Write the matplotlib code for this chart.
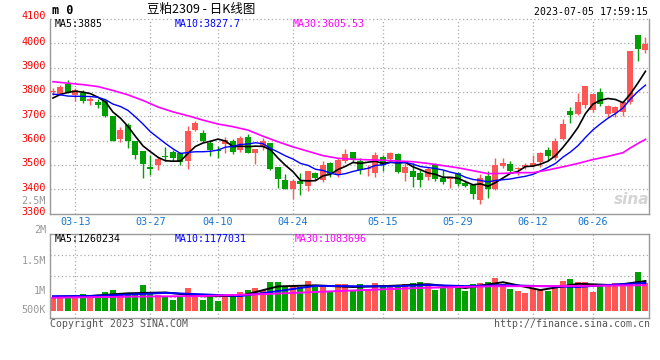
import matplotlib
matplotlib.use("Agg")
import matplotlib.pyplot as plt
from matplotlib.transforms import blended_transform_factory
import numpy as np

# daily candles 2023-03-08 .. 2023-07-05 (80 trading days)
opens = [3800, 3793, 3832, 3788, 3796, 3763, 3759, 3763, 3700, 3606,
         3663, 3599, 3557, 3490, 3499, 3536, 3555, 3547, 3517, 3643,
         3633, 3592, 3563, 3585, 3599, 3561, 3616, 3550, 3572, 3588,
         3490, 3438, 3401, 3435, 3414, 3468, 3438, 3506, 3458, 3517,
         3551, 3517, 3481, 3468, 3533, 3524, 3544, 3468, 3475, 3465,
         3451, 3499, 3448, 3443, 3468, 3427, 3417, 3355, 3455, 3399,
         3495, 3503, 3481, 3492, 3495, 3510, 3561, 3529, 3606, 3721,
         3709, 3746, 3725, 3800, 3711, 3714, 3718, 3759, 4033, 3974]
highs = [3818, 3828, 3848, 3815, 3810, 3780, 3770, 3770, 3702, 3654,
         3673, 3600, 3558, 3540, 3531, 3572, 3560, 3554, 3659, 3681,
         3643, 3602, 3577, 3615, 3605, 3617, 3629, 3566, 3609, 3591,
         3491, 3462, 3440, 3465, 3476, 3472, 3517, 3513, 3529, 3564,
         3552, 3527, 3499, 3551, 3540, 3551, 3547, 3506, 3509, 3479,
         3492, 3509, 3479, 3452, 3472, 3438, 3421, 3462, 3476, 3527,
         3527, 3516, 3492, 3509, 3540, 3554, 3574, 3609, 3687, 3739,
         3796, 3825, 3793, 3818, 3746, 3741, 3760, 3970, 4034, 4024]
lows = [3786, 3788, 3797, 3763, 3755, 3748, 3735, 3697, 3598, 3595,
        3570, 3524, 3447, 3458, 3479, 3517, 3517, 3499, 3483, 3640,
        3595, 3537, 3527, 3547, 3545, 3553, 3547, 3503, 3561, 3479,
        3403, 3400, 3360, 3376, 3394, 3438, 3428, 3451, 3451, 3509,
        3513, 3461, 3454, 3449, 3476, 3520, 3465, 3435, 3410, 3410,
        3438, 3433, 3421, 3403, 3414, 3410, 3358, 3338, 3362, 3396,
        3486, 3468, 3458, 3481, 3492, 3492, 3522, 3522, 3602, 3673,
        3705, 3735, 3718, 3741, 3698, 3695, 3700, 3750, 3928, 3960]
closes = [3801, 3821, 3799, 3810, 3764, 3771, 3748, 3700, 3600, 3643,
          3600, 3540, 3505, 3484, 3524, 3532, 3528, 3510, 3639, 3673,
          3600, 3561, 3556, 3602, 3555, 3611, 3550, 3565, 3599, 3485,
          3442, 3401, 3433, 3421, 3475, 3447, 3499, 3462, 3520, 3544,
          3524, 3479, 3488, 3540, 3499, 3547, 3472, 3490, 3451, 3438,
          3485, 3442, 3428, 3451, 3421, 3413, 3379, 3447, 3399, 3499,
          3506, 3476, 3486, 3499, 3509, 3547, 3536, 3598, 3668, 3707,
          3759, 3824, 3791, 3750, 3741, 3739, 3759, 3969, 3978, 3996]
volumes = [588000, 588000, 630000, 617000, 714000, 617000, 617000, 798000, 882000, 714000,
           702000, 714000, 1092000, 798000, 672000, 617000, 462000, 588000, 966000, 617000,
           462000, 588000, 420000, 672000, 714000, 798000, 882000, 966000, 882000, 1218000,
           1218000, 1021000, 1092000, 1021000, 1261000, 996000, 1092000, 798000, 1134000, 1134000,
           882000, 1134000, 882000, 1176000, 1092000, 996000, 1050000, 1134000, 1176000, 1218000,
           1050000, 882000, 966000, 1050000, 1092000, 840000, 1134000, 1176000, 1218000, 1387000,
           1134000, 924000, 840000, 756000, 954000, 924000, 840000, 1050000, 1261000, 1345000,
           1218000, 1218000, 798000, 1134000, 1092000, 1176000, 1176000, 1134000, 1651000, 1176000]

ma5 = [3775, 3790, 3798, 3803, 3799, 3793, 3778, 3759, 3717, 3692,
       3658, 3617, 3578, 3554, 3531, 3517, 3515, 3516, 3547, 3576,
       3590, 3597, 3606, 3598, 3575, 3577, 3575, 3577, 3576, 3562,
       3528, 3498, 3472, 3436, 3434, 3435, 3455, 3461, 3481, 3494,
       3510, 3506, 3511, 3515, 3506, 3511, 3509, 3510, 3492, 3480,
       3467, 3461, 3449, 3449, 3445, 3431, 3418, 3422, 3412, 3427,
       3446, 3465, 3473, 3493, 3495, 3503, 3515, 3538, 3572, 3611,
       3654, 3711, 3750, 3766, 3773, 3769, 3756, 3792, 3837, 3885]
ma10 = [3791, 3788, 3783, 3782, 3782, 3781, 3778, 3768, 3750, 3740,
        3724, 3697, 3668, 3636, 3612, 3588, 3566, 3547, 3551, 3554,
        3554, 3556, 3561, 3573, 3576, 3584, 3586, 3591, 3587, 3568,
        3553, 3537, 3524, 3506, 3498, 3482, 3477, 3466, 3459, 3464,
        3473, 3480, 3486, 3498, 3500, 3510, 3508, 3510, 3503, 3493,
        3489, 3485, 3479, 3470, 3463, 3449, 3440, 3436, 3430, 3436,
        3439, 3442, 3448, 3453, 3461, 3475, 3490, 3506, 3532, 3553,
        3579, 3613, 3644, 3669, 3692, 3711, 3734, 3771, 3802, 3828]
ma30_idx = [0, 2, 4, 6, 8, 10, 12, 14, 16, 18, 20, 22, 24, 26, 28, 30, 32, 34, 36, 38,
            40, 42, 44, 46, 48, 50, 52, 54, 56, 58, 60, 62, 64, 66, 68, 70, 72, 74, 76,
            77, 78, 79]
ma30 = [3842, 3836, 3830, 3822, 3806, 3788, 3765, 3738, 3718, 3702, 3684, 3668, 3657,
        3643, 3618, 3595, 3574, 3556, 3538, 3527, 3523, 3521, 3519, 3516, 3513, 3506,
        3497, 3488, 3476, 3464, 3465, 3468, 3468, 3479, 3492, 3506, 3522, 3535, 3550,
        3570, 3588, 3605]

vma_idx = [0, 5, 10, 15, 20, 25, 30, 35, 40, 45, 50, 55, 60, 65, 70, 75, 79]
vma5 = [600000, 633000, 743000, 779000, 619000, 638000, 1033000, 1078000, 1008000,
        1056000, 1126000, 966000, 1210000, 880000, 1143000, 1084000, 1260000]
vma10 = [620000, 630000, 688000, 761000, 699000, 629000, 836000, 1056000, 1043000,
         1032000, 1091000, 1046000, 1088000, 1045000, 1011000, 1113000, 1177000]
vma30_idx = [0, 10, 20, 29, 39, 49, 59, 69, 79]
vma30 = [560000, 600000, 630000, 720000, 850000, 970000, 1040000, 1050000, 1084000]

tick_idx = [3, 13, 22, 32, 44, 54, 64, 72]
tick_labels = ['03-13', '03-27', '04-10', '04-24', '05-15', '05-29', '06-12', '06-26']
price_ticks = [3300, 3400, 3500, 3600, 3700, 3800, 3900, 4000, 4100]
vol_labels = ['2.5M', '2M', '1.5M', '1M', '500K']

RED = '#ff5656'
GREEN = '#00a000'
GRID = '#aaaaaa'
FRAME = '#999999'
MONO = 'DejaVu Sans Mono'

W, H = 660, 360
fig = plt.figure(figsize=(6.6, 3.6), dpi=100)
fig.patch.set_facecolor('white')


def fx(px):
    return px / W


def fy(py):
    return 1 - py / H


ax = fig.add_axes([fx(50), fy(213.5), fx(649) - fx(50), fy(19) - fy(213.5)])
axv = fig.add_axes([fx(50), fy(318), fx(649) - fx(50), fy(234) - fy(318)])

n = len(closes)
x = np.arange(n)
colors = [RED if c >= o else GREEN for o, c in zip(opens, closes)]
bottoms = [min(o, c) for o, c in zip(opens, closes)]
heights = [max(abs(c - o), 3) for o, c in zip(opens, closes)]

# price panel
for p in price_ticks[1:]:
    ax.axhline(p, color=GRID, lw=0.9, ls=(0, (1, 2)), zorder=0, clip_on=False)
for t in tick_idx:
    ax.axvline(t, color=GRID, lw=0.9, ls=(0, (1, 2)), zorder=0)
    axv.axvline(t, color=GRID, lw=0.9, ls=(0, (1, 2)), zorder=0)

ax.vlines(x, lows, highs, colors=colors, lw=1, zorder=2)
ax.bar(x, heights, bottom=bottoms, width=0.8, color=colors, lw=0, zorder=3)
ax.plot(x, ma5, color='black', lw=1.2, zorder=4)
ax.plot(x, ma10, color='#0000ff', lw=1.0, zorder=4)
ax.plot(ma30_idx, ma30, color='#ff00ff', lw=1.2, zorder=4)

ax.set_xlim(-0.4, 79.47)
ax.set_ylim(3300, 4100)
ax.set_xticks([])
ax.set_yticks([])
ax.spines['top'].set_visible(False)
for s in ['left', 'right', 'bottom']:
    ax.spines[s].set_color(FRAME)
    ax.spines[s].set_linewidth(1)

ytrans = blended_transform_factory(fig.transFigure, ax.transData)
for p in price_ticks:
    off = 12 if p == price_ticks[-1] else 6
    ax.text(fx(46), p + off, str(p), transform=ytrans, ha='right', va='center',
            color='#ff0000', fontsize=7.3, family=MONO)

xtrans = blended_transform_factory(ax.transData, fig.transFigure)
for t, lab in zip(tick_idx, tick_labels):
    ax.text(t, fy(222), lab, transform=xtrans, ha='center', va='center',
            color='#1874cd', fontsize=7.3, family=MONO)

# volume panel
vlo, vhi = -294000, 3235000
for k in (1, 2, 3):
    axv.axhline(vlo + (vhi - vlo) * k / 4, color=GRID, lw=0.9, ls=(0, (1, 2)), zorder=0)
axv.bar(x, volumes, width=0.8, color=colors, lw=0, zorder=2)
axv.plot(vma_idx, vma5, color='black', lw=1.4, zorder=3)
axv.plot(vma_idx, vma10, color='#0000ff', lw=1.4, zorder=3)
axv.plot(vma30_idx, vma30, color='#ff00ff', lw=1.4, zorder=3)
axv.set_xlim(-0.4, 79.47)
axv.set_ylim(vlo, vhi)
axv.set_xticks([])
axv.set_yticks([])
for s in axv.spines.values():
    s.set_color(FRAME)
    s.set_linewidth(1)

for lab, py in zip(vol_labels, [201, 230.5, 261, 291, 310]):
    fig.text(fx(46), fy(py), lab, ha='right', va='center', color=FRAME,
             fontsize=7.3, family=MONO)

# header / legends
fig.text(fx(52), fy(10), 'm 0', ha='left', va='center', fontsize=8.5,
         fontweight='bold', family=MONO)
fig.text(fx(201), fy(9), '豆粕2309 - 日K线图', ha='center', va='center', fontsize=9,
         family=['Noto Sans CJK SC', 'DejaVu Sans'])
fig.text(fx(648), fy(12), '2023-07-05 17:59:15', ha='right', va='center',
         fontsize=7.1, family=MONO)

fig.text(fx(55), fy(24), 'MA5:3885', color='black', fontsize=7.1, family=MONO, va='center')
fig.text(fx(175), fy(24), 'MA10:3827.7', color='#0000ff', fontsize=7.1, family=MONO, va='center')
fig.text(fx(293), fy(24), 'MA30:3605.53', color='#ff00ff', fontsize=7.1, family=MONO, va='center')
fig.text(fx(55), fy(239.5), 'MA5:1260234', color='black', fontsize=7.1, family=MONO, va='center')
fig.text(fx(175), fy(239.5), 'MA10:1177031', color='#0000ff', fontsize=7.1, family=MONO, va='center')
fig.text(fx(295), fy(239.5), 'MA30:1083696', color='#ff00ff', fontsize=7.1, family=MONO, va='center')

fig.text(fx(50), fy(324), 'Copyright 2023 SINA.COM', color='#555555', fontsize=7.1,
         family=MONO, va='center')
fig.text(fx(650), fy(324), 'http://finance.sina.com.cn', color='#555555', fontsize=7.1,
         family=MONO, va='center', ha='right')

# watermark
fig.text(fx(632), fy(200), 'sina', color='#d4d4d4', fontsize=11, fontstyle='italic',
         fontweight='bold', ha='center', va='center')

fig.savefig('out.png', dpi=100)
